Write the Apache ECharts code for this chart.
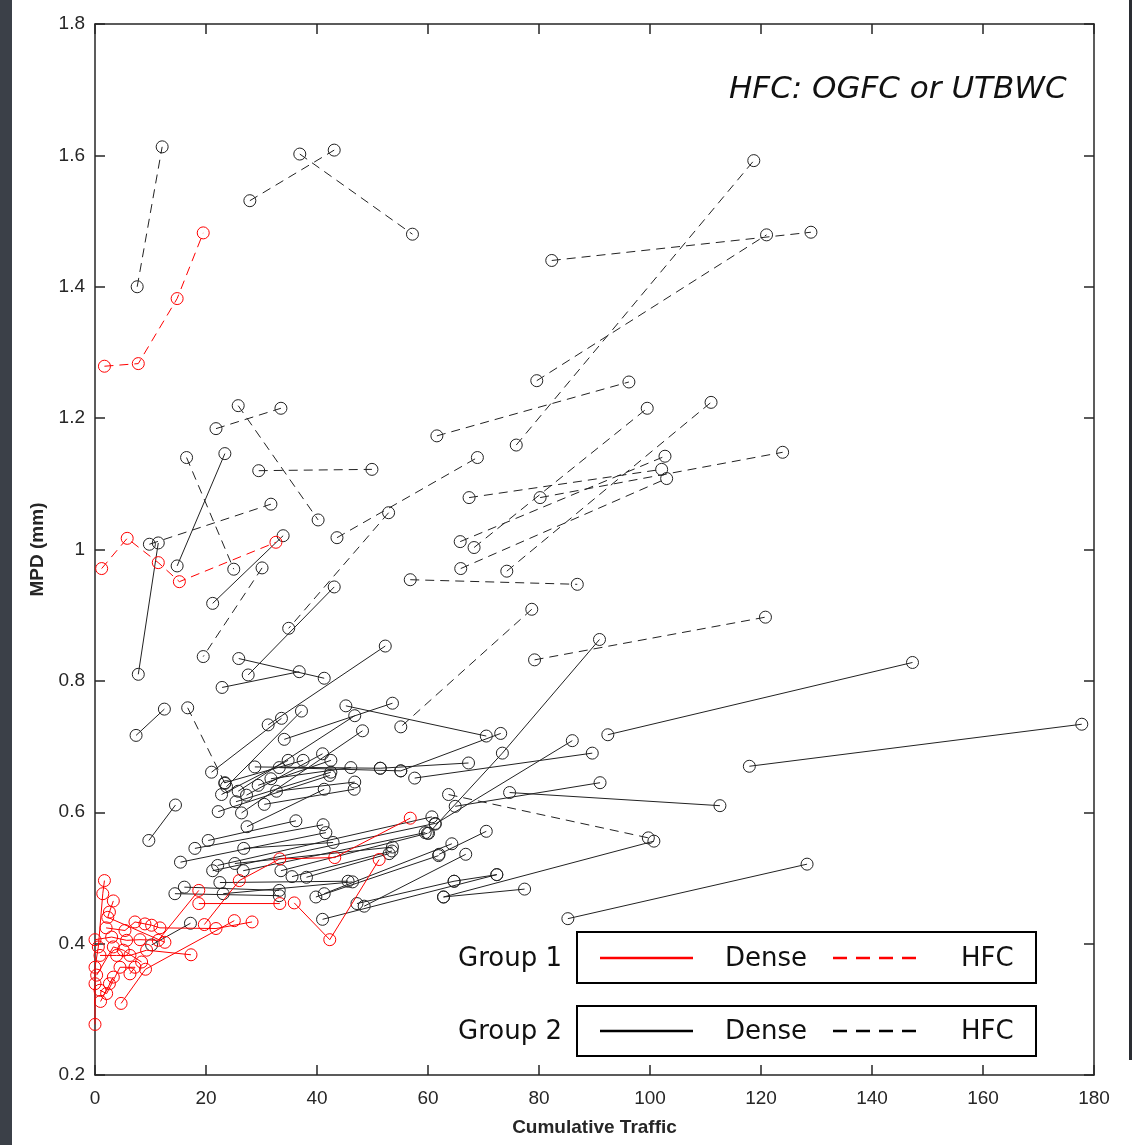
<!DOCTYPE html>
<html><head><meta charset="utf-8">
<script src="https://cdn.jsdelivr.net/npm/echarts@6/dist/echarts.min.js"></script>
<style>html,body{margin:0;padding:0;background:#fff}#c{width:1132px;height:1145px}</style>
</head><body><div id="c"></div>
<script>
// Group 2, HFC (black dashed) segments: [cumulative traffic, MPD]
const g2HFC = [
 [[7.6,1.40],[12.1,1.613]],
 [[27.9,1.531],[43.1,1.608]],
 [[36.9,1.602],[57.2,1.48]],
 [[75.9,1.159],[118.7,1.592]],
 [[79.6,1.257],[121.0,1.479]],
 [[82.3,1.44],[129.0,1.483]],
 [[61.6,1.173],[96.2,1.255]],
 [[21.8,1.184],[33.5,1.215]],
 [[25.8,1.219],[40.2,1.045]],
 [[16.5,1.14],[25.0,0.97]],
 [[29.5,1.12],[49.9,1.122]],
 [[9.8,1.008],[31.7,1.069]],
 [[30.1,0.972],[19.5,0.837]],
 [[43.6,1.018],[68.9,1.14]],
 [[52.9,1.056],[34.9,0.88]],
 [[67.4,1.079],[102.1,1.122]],
 [[80.2,1.079],[123.9,1.148]],
 [[65.8,1.012],[102.7,1.142]],
 [[68.3,1.003],[99.5,1.215]],
 [[65.9,0.971],[103.0,1.108]],
 [[74.2,0.967],[111.0,1.224]],
 [[56.8,0.954],[86.9,0.947]],
 [[78.7,0.909],[55.1,0.73]],
 [[79.2,0.832],[120.8,0.897]],
 [[16.7,0.759],[23.4,0.644]],
 [[63.7,0.627],[99.7,0.561]]
];
// Group 2, Dense (black solid)
const g2Dense = [
 [[23.4,1.146],[14.8,0.975]],
 [[11.4,1.01],[7.8,0.81]],
 [[33.9,1.021],[21.2,0.918]],
 [[43.1,0.943],[27.6,0.809]],
 [[25.9,0.834],[41.3,0.804]],
 [[22.9,0.79],[36.8,0.814]],
 [[7.4,0.717],[12.5,0.757]],
 [[9.7,0.557],[14.5,0.611]],
 [[92.4,0.718],[147.3,0.828]],
 [[117.9,0.670],[177.8,0.734]],
 [[74.7,0.630],[112.6,0.61]],
 [[85.2,0.438],[128.3,0.521]],
 [[45.2,0.762],[70.5,0.716]],
 [[53.6,0.766],[34.1,0.711]],
 [[52.3,0.853],[31.2,0.733]],
 [[46.8,0.747],[25.8,0.632]],
 [[48.2,0.724],[26.4,0.599]],
 [[37.2,0.754],[23.7,0.639]],
 [[21.0,0.661],[33.6,0.743]],
 [[28.8,0.669],[51.4,0.667]],
 [[33.2,0.668],[55.1,0.663]],
 [[55.1,0.663],[73.1,0.72]],
 [[51.4,0.667],[67.3,0.675]],
 [[57.6,0.652],[89.6,0.69]],
 [[60.1,0.568],[73.4,0.69],[90.9,0.863]],
 [[86.0,0.709],[61.3,0.582]],
 [[64.9,0.609],[91.0,0.645]],
 [[62.8,0.471],[100.7,0.556]],
 [[62.8,0.471],[77.4,0.483]],
 [[64.7,0.495],[72.4,0.505]],
 [[62.0,0.536],[70.5,0.571]],
 [[23.4,0.645],[37.5,0.679]],
 [[22.8,0.627],[34.8,0.679]],
 [[27.3,0.626],[41.0,0.689]],
 [[29.4,0.641],[42.5,0.679]],
 [[31.7,0.651],[46.1,0.668]],
 [[32.7,0.632],[46.8,0.646]],
 [[25.4,0.616],[42.5,0.661]],
 [[30.5,0.612],[46.7,0.635]],
 [[22.2,0.601],[42.3,0.656]],
 [[27.4,0.578],[41.3,0.635]],
 [[20.4,0.557],[36.2,0.587]],
 [[18.0,0.545],[41.1,0.581]],
 [[15.4,0.524],[41.6,0.569]],
 [[26.8,0.545],[42.9,0.554]],
 [[22.1,0.519],[60.7,0.593]],
 [[21.2,0.511],[61.3,0.583]],
 [[25.2,0.522],[53.6,0.547]],
 [[26.7,0.511],[59.5,0.569]],
 [[33.5,0.511],[59.9,0.568]],
 [[35.5,0.502],[53.5,0.541]],
 [[38.1,0.501],[53.0,0.537]],
 [[22.5,0.493],[45.6,0.495]],
 [[23.1,0.476],[46.4,0.494]],
 [[16.1,0.486],[33.2,0.481]],
 [[14.4,0.476],[33.2,0.473]],
 [[39.8,0.471],[61.9,0.534]],
 [[41.3,0.476],[64.3,0.552]],
 [[47.2,0.461],[64.7,0.495]],
 [[48.5,0.457],[66.8,0.536]],
 [[41.0,0.437],[72.4,0.505]],
 [[10.2,0.398],[17.2,0.431]]
];
// Group 1, HFC (red dashed)
const g1HFC = [
 [[1.7,1.279],[7.8,1.283],[14.8,1.382],[19.5,1.482]],
 [[1.2,0.971],[5.8,1.017],[11.4,0.98],[15.2,0.951],[32.6,1.011]]
];
// Group 1, Dense (red solid)
const g1Dense = [
 [[56.8,0.591],[43.2,0.531],[33.3,0.529],[26.0,0.496],[19.7,0.429]],
 [[51.2,0.528],[42.3,0.406],[35.9,0.462]],
 [[18.7,0.461],[33.3,0.461]],
 [[1.7,0.496],[1.4,0.476],[0.6,0.395],[0,0.364],[0,0.339],[0,0.277]],
 [[0,0.406],[3.0,0.410],[5.7,0.405],[8.1,0.406],[11.4,0.405],[18.7,0.481]],
 [[0.9,0.382],[3.9,0.382],[6.3,0.382],[9.3,0.390],[17.3,0.383]],
 [[4.7,0.309],[9.1,0.361],[25.1,0.435]],
 [[2.0,0.424],[5.4,0.420],[7.2,0.433],[9.0,0.430],[10.2,0.428],[11.7,0.424],[21.8,0.423],[28.3,0.433]],
 [[3.3,0.465],[2.6,0.448],[2.3,0.440],[12.6,0.402]],
 [[0.3,0.352],[3.3,0.395],[5.1,0.390],[8.4,0.372]],
 [[0.9,0.329],[2.1,0.324],[4.5,0.364],[7.2,0.364],[6.3,0.354]],
 [[1.0,0.312],[3.3,0.349],[2.6,0.339]]
];
const xTicks = [0,20,40,60,80,100,120,140,160,180];
const yTicks = [0.2,0.4,0.6,0.8,1.0,1.2,1.4,1.6,1.8];

const RED = '#ff0000', BLK = '#222222', AX = '#262626';
const chart = echarts.init(document.getElementById('c'), null, {renderer:'canvas'});
const series = [];
function addGroup(list, color, dashed){
  list.forEach(seg => series.push({
    type:'line', data: seg, xAxisIndex:0, yAxisIndex:0,
    symbol:'circle', symbolSize:12, showSymbol:true, showAllSymbol:true,
    lineStyle:{color, width:1, type: dashed ? [9,6] : 'solid'},
    itemStyle:{color:'rgba(0,0,0,0)', borderColor:color, borderWidth:1},
    emphasis:{disabled:true},
    animation:false, silent:true, z: color===RED?3:2
  }));
}
addGroup(g2HFC, BLK, true);
addGroup(g2Dense, BLK, false);
addGroup(g1HFC, RED, true);
addGroup(g1Dense, RED, false);

const axisCommon = {
  axisLine:{show:true, onZero:false, lineStyle:{color:AX, width:1.5}},
  axisTick:{show:true, inside:true, length:10, lineStyle:{color:AX, width:1.5}},
  splitLine:{show:false}
};
const fmt = v => String(Math.round(v*10)/10);
chart.setOption({
  backgroundColor:'#fff',
  animation:false,
  grid:{left:95, right:38, top:24, bottom:70, containLabel:false},
  xAxis:[
    Object.assign({type:'value', min:0, max:180, interval:20, position:'bottom',
      name:'Cumulative Traffic', nameLocation:'middle', nameGap:43,
      nameTextStyle:{fontFamily:'Liberation Sans, Arial', fontWeight:'bold', fontSize:19, color:AX},
      axisLabel:{margin:14, fontFamily:'Liberation Sans, Arial', fontSize:19, color:AX, formatter:fmt}}, axisCommon),
    Object.assign({type:'value', min:0, max:180, interval:20, position:'top', axisLabel:{show:false}}, axisCommon)
  ],
  yAxis:[
    Object.assign({type:'value', min:0.2, max:1.8, interval:0.2, position:'left',
      name:'MPD (mm)', nameLocation:'middle', nameGap:48, nameRotate:90,
      nameTextStyle:{fontFamily:'Liberation Sans, Arial', fontWeight:'bold', fontSize:19, color:AX},
      axisLabel:{margin:10, fontFamily:'Liberation Sans, Arial', fontSize:19, color:AX, formatter:fmt}}, axisCommon),
    Object.assign({type:'value', min:0.2, max:1.8, interval:0.2, position:'right', axisLabel:{show:false}}, axisCommon)
  ],
  series,
  graphic:[
    {type:'rect', shape:{x:0,y:0,width:12,height:1145}, style:{fill:'#3b4048'}, z:100},
    {type:'rect', shape:{x:1129,y:0,width:3,height:1060}, style:{fill:'#2a2d33'}, z:100},
    {type:'text', left:729, top:74, style:{text:'HFC: OGFC or UTBWC', font:'italic 31px "DejaVu Sans"', fill:'#111'}, z:100},
    {type:'text', left:458, top:946, style:{text:'Group 1', font:'26px "DejaVu Sans"', fill:'#111'}, z:100},
    {type:'rect', shape:{x:577,y:932,width:459,height:51}, style:{fill:'#fff', stroke:'#000', lineWidth:2}, z:100},
    {type:'line', shape:{x1:600,y1:958,x2:693,y2:958}, style:{stroke:RED, lineWidth:2.5}, z:101},
    {type:'text', left:725, top:946, style:{text:'Dense', font:'26px "DejaVu Sans"', fill:'#111'}, z:101},
    {type:'line', shape:{x1:833,y1:958,x2:925,y2:958}, style:{stroke:RED, lineWidth:2.5, lineDash:[14,9]}, z:101},
    {type:'text', left:961, top:946, style:{text:'HFC', font:'26px "DejaVu Sans"', fill:'#111'}, z:101},
    {type:'text', left:458, top:1019, style:{text:'Group 2', font:'26px "DejaVu Sans"', fill:'#111'}, z:100},
    {type:'rect', shape:{x:577,y:1006,width:459,height:50}, style:{fill:'#fff', stroke:'#000', lineWidth:2}, z:100},
    {type:'line', shape:{x1:600,y1:1031,x2:693,y2:1031}, style:{stroke:'#000', lineWidth:2.5}, z:101},
    {type:'text', left:725, top:1019, style:{text:'Dense', font:'26px "DejaVu Sans"', fill:'#111'}, z:101},
    {type:'line', shape:{x1:833,y1:1031,x2:925,y2:1031}, style:{stroke:'#000', lineWidth:2.5, lineDash:[14,9]}, z:101},
    {type:'text', left:961, top:1019, style:{text:'HFC', font:'26px "DejaVu Sans"', fill:'#111'}, z:101}
  ]
});
</script></body></html>
